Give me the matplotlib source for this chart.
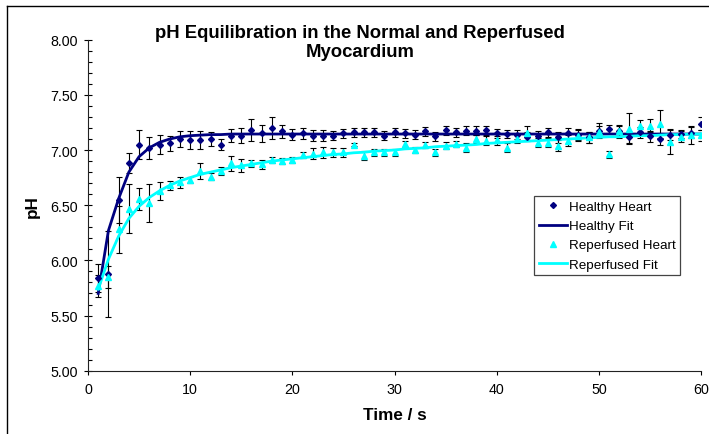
import matplotlib
matplotlib.use("Agg")
import matplotlib.pyplot as plt
from matplotlib.lines import Line2D
import numpy as np

plt.rcParams['font.family'] = ['Liberation Sans', 'DejaVu Sans']

time_s = list(range(1, 61))

healthy_ph = [5.84, 5.88, 6.55, 6.88, 7.05, 7.02, 7.05, 7.06, 7.10, 7.09,
              7.09, 7.10, 7.05, 7.13, 7.13, 7.18, 7.15, 7.20, 7.17, 7.14,
              7.15, 7.13, 7.13, 7.13, 7.15, 7.16, 7.16, 7.16, 7.13, 7.16,
              7.15, 7.14, 7.17, 7.125, 7.18, 7.16, 7.175, 7.175, 7.18, 7.15,
              7.145, 7.14, 7.12, 7.13, 7.16, 7.115, 7.15, 7.14, 7.115, 7.175,
              7.19, 7.17, 7.115, 7.16, 7.125, 7.10, 7.14, 7.145, 7.155, 7.24]
healthy_err = [0.13, 0.39, 0.21, 0.09, 0.13, 0.10, 0.09, 0.07, 0.07, 0.08,
               0.08, 0.06, 0.05, 0.06, 0.07, 0.10, 0.08, 0.10, 0.06, 0.05,
               0.05, 0.05, 0.05, 0.04, 0.04, 0.04, 0.04, 0.04, 0.04, 0.04,
               0.04, 0.04, 0.04, 0.04, 0.04, 0.04, 0.04, 0.04, 0.04, 0.04,
               0.04, 0.04, 0.04, 0.04, 0.04, 0.05, 0.05, 0.05, 0.05, 0.07,
               0.04, 0.06, 0.05, 0.05, 0.05, 0.05, 0.05, 0.04, 0.05, 0.06]

reperfused_ph = [5.77, 5.85, 6.28, 6.47, 6.56, 6.52, 6.63, 6.68, 6.71, 6.73,
                 6.81, 6.76, 6.81, 6.88, 6.86, 6.88, 6.87, 6.91, 6.90, 6.91,
                 6.955, 6.965, 6.98, 6.98, 6.98, 7.05, 6.95, 6.98, 6.98, 6.98,
                 7.055, 7.00, 7.045, 6.98, 7.04, 7.055, 7.02, 7.10, 7.085, 7.09,
                 7.02, 7.10, 7.155, 7.065, 7.065, 7.04, 7.085, 7.13, 7.115, 7.165,
                 6.96, 7.17, 7.195, 7.215, 7.22, 7.235, 7.07, 7.12, 7.135, 7.135]
reperfused_err = [0.10, 0.10, 0.21, 0.22, 0.10, 0.17, 0.08, 0.04, 0.05, 0.03,
                  0.07, 0.03, 0.04, 0.07, 0.06, 0.03, 0.04, 0.03, 0.03, 0.03,
                  0.03, 0.05, 0.05, 0.04, 0.04, 0.01, 0.04, 0.03, 0.03, 0.03,
                  0.03, 0.03, 0.03, 0.03, 0.03, 0.03, 0.04, 0.04, 0.04, 0.04,
                  0.04, 0.04, 0.06, 0.04, 0.04, 0.05, 0.05, 0.05, 0.05, 0.05,
                  0.03, 0.05, 0.14, 0.06, 0.06, 0.13, 0.11, 0.05, 0.08, 0.05]

healthy_fit = [5.70, 6.27, 6.56, 6.80, 6.94, 7.02, 7.07, 7.10, 7.12, 7.13,
               7.135, 7.14, 7.14, 7.145, 7.145, 7.145, 7.145, 7.145, 7.145, 7.145,
               7.145, 7.145, 7.145, 7.145, 7.145, 7.145, 7.145, 7.145, 7.145, 7.145,
               7.145, 7.145, 7.145, 7.145, 7.145, 7.145, 7.145, 7.145, 7.145, 7.145,
               7.145, 7.145, 7.145, 7.145, 7.145, 7.145, 7.145, 7.145, 7.145, 7.145,
               7.145, 7.145, 7.145, 7.145, 7.145, 7.145, 7.145, 7.145, 7.145, 7.145]
reperfused_fit = [5.74, 6.01, 6.22, 6.38, 6.49, 6.57, 6.63, 6.68, 6.72, 6.75,
                  6.78, 6.80, 6.82, 6.84, 6.855, 6.87, 6.885, 6.90, 6.91, 6.92,
                  6.93, 6.94, 6.95, 6.96, 6.965, 6.975, 6.98, 6.99, 6.995, 7.00,
                  7.01, 7.015, 7.02, 7.03, 7.035, 7.04, 7.045, 7.05, 7.06, 7.065,
                  7.07, 7.075, 7.08, 7.085, 7.09, 7.095, 7.10, 7.105, 7.11, 7.115,
                  7.12, 7.12, 7.125, 7.13, 7.13, 7.135, 7.14, 7.14, 7.145, 7.145]

title = "pH Equilibration in the Normal and Reperfused\nMyocardium"
x_label = "Time / s"
y_label = "pH"
y_ticks = [5.00, 5.50, 6.00, 6.50, 7.00, 7.50, 8.00]
x_ticks = [0, 10, 20, 30, 40, 50, 60]
legend_labels = ['Healthy Heart', 'Healthy Fit', 'Reperfused Heart', 'Reperfused Fit']

W, H = 709, 435
fig = plt.figure(figsize=(W / 100, H / 100), dpi=100)
ax = fig.add_axes([88 / W, 1 - 371.7 / H, (701 - 88) / W, (371.7 - 40.7) / H])

navy = '#000080'
cyan = '#00FFFF'
d_ms = 3.0
t_ms = 5.0

ax.errorbar(time_s, healthy_ph, yerr=healthy_err, fmt='none', ecolor='black',
            elinewidth=0.8, capsize=2.5, capthick=0.8, zorder=2)
ax.errorbar(time_s, reperfused_ph, yerr=reperfused_err, fmt='none', ecolor='black',
            elinewidth=0.8, capsize=2.5, capthick=0.8, zorder=2)
ax.plot(time_s, healthy_fit, color=navy, lw=2.0, zorder=3)
ax.plot(time_s, reperfused_fit, color=cyan, lw=2.0, zorder=3)
ax.plot(time_s, healthy_ph, linestyle='none', marker='D', ms=d_ms, color=navy, zorder=4)
ax.plot(time_s, reperfused_ph, linestyle='none', marker='^', ms=t_ms, color=cyan, zorder=4)

ax.set_xlim(0, 60)
ax.set_ylim(5.0, 8.0)
ax.set_xticks(x_ticks)
ax.set_xticklabels([str(v) for v in x_ticks])
ax.set_yticks(y_ticks)
ax.set_yticklabels([f"{v:.2f}" for v in y_ticks])
ax.set_yticks(np.arange(5.0, 8.0001, 0.1), minor=True)
ax.tick_params(axis='both', labelsize=10.3, colors='black')
ax.tick_params(axis='y', which='major', direction='inout', length=6, width=0.8, pad=4)
ax.tick_params(axis='y', which='minor', direction='in', length=3, width=0.8)
ax.tick_params(axis='x', which='major', direction='out', length=3, width=0.8, pad=5)
for s in ['top', 'right']:
    ax.spines[s].set_visible(False)
for s in ['left', 'bottom']:
    ax.spines[s].set_color('#222222')
    ax.spines[s].set_linewidth(0.8)

ax.set_xlabel(x_label, fontsize=12.3, fontweight='bold', labelpad=8)
ax.set_ylabel(y_label, fontsize=12.3, fontweight='bold', labelpad=8)
fig.text(360 / W, 1 - 43 / H, title, ha='center', va='center', fontsize=13.3,
         fontweight='bold', linespacing=1.2)

handles = [
    Line2D([], [], linestyle='none', marker='D', ms=d_ms, color=navy),
    Line2D([], [], color=navy, lw=2.0),
    Line2D([], [], linestyle='none', marker='^', ms=t_ms, color=cyan),
    Line2D([], [], color=cyan, lw=2.0),
]
leg = ax.legend(handles, legend_labels, loc='upper left',
                bbox_to_anchor=((534 - 88) / (701 - 88), (371.7 - 197) / (371.7 - 40.7)),
                fontsize=9.7, frameon=True, fancybox=False, framealpha=1,
                edgecolor='#444444', borderpad=0.35, labelspacing=0.5,
                handlelength=2.1, handletextpad=0.15, borderaxespad=0)
leg.get_frame().set_linewidth(0.9)

fig.add_artist(Line2D([6.5 / W, 6.5 / W], [0, 1 - 7 / H], color='black', lw=1.0,
                      transform=fig.transFigure))
fig.add_artist(Line2D([6.5 / W, 1], [1 - 7 / H, 1 - 7 / H], color='black', lw=1.0,
                      transform=fig.transFigure))

fig.savefig('out.png', dpi=100)
